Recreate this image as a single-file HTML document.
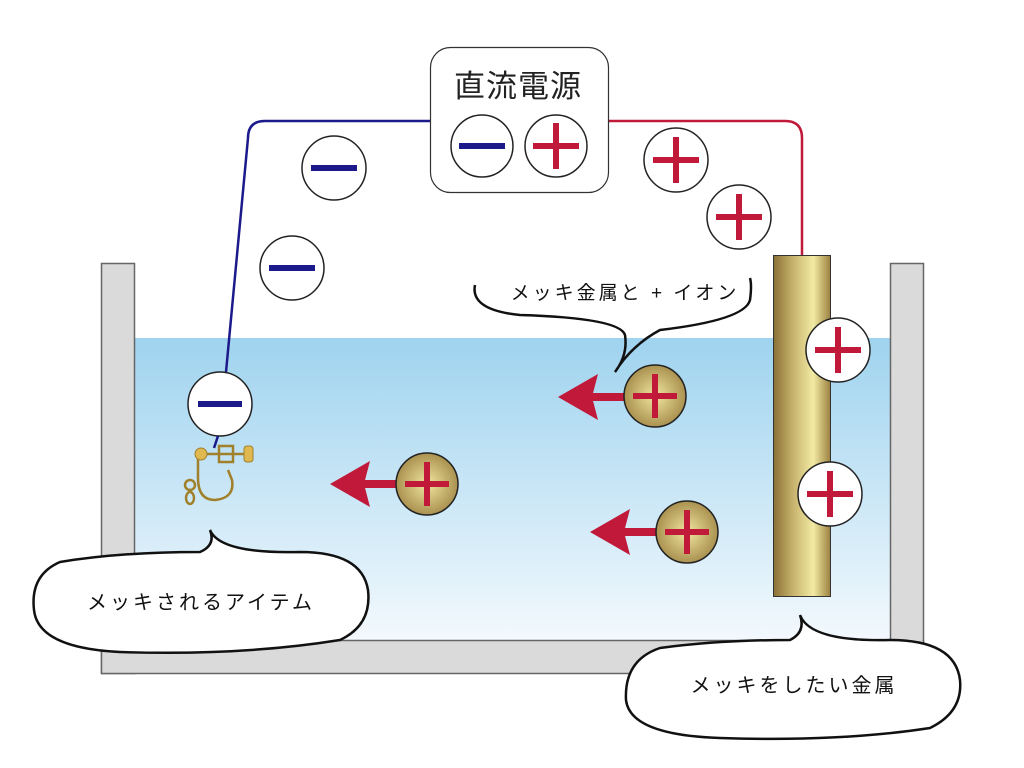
<!DOCTYPE html>
<html><head><meta charset="utf-8"><style>
html,body{margin:0;padding:0;background:#fff;width:1024px;height:768px;overflow:hidden}
text{font-family:"Liberation Sans","Noto Sans CJK JP",sans-serif}
</style></head><body>
<svg width="1024" height="768" viewBox="0 0 1024 768" xmlns="http://www.w3.org/2000/svg">
<defs>
<linearGradient id="water" x1="0" y1="0" x2="0" y2="1">
<stop offset="0" stop-color="#9fd3ef"/><stop offset="1" stop-color="#f3f9fd"/></linearGradient>
<linearGradient id="gold" x1="0" y1="0" x2="1" y2="0">
<stop offset="0" stop-color="#8a7035"/><stop offset="0.35" stop-color="#c8b46e"/><stop offset="0.7" stop-color="#f2eba4"/><stop offset="1" stop-color="#9c8040"/></linearGradient>
<radialGradient id="gball" cx="0.5" cy="0.5" r="0.6">
<stop offset="0" stop-color="#f0e6a0"/><stop offset="1" stop-color="#9c8040"/></radialGradient>
</defs>
<rect x="134" y="338" width="756" height="302" fill="url(#water)"/>
<rect x="101.5" y="263.5" width="33" height="410" fill="#dadada" stroke="#666" stroke-width="1.5"/>
<rect x="890.5" y="263.5" width="33" height="410" fill="#dadada" stroke="#666" stroke-width="1.5"/>
<rect x="101.5" y="640.5" width="822" height="33" fill="#dadada" stroke="#666" stroke-width="1.5"/>
<rect x="102.5" y="264.5" width="31" height="408" fill="#dadada"/>
<rect x="891.5" y="264.5" width="31" height="408" fill="#dadada"/>
<path d="M430 121 H265 Q248 121 248 138 L226 372" fill="none" stroke="#1c1a8a" stroke-width="2.5"/>
<path d="M608 121 H785 Q802 121 802 138 V256" fill="none" stroke="#c0193a" stroke-width="2.5"/>
<rect x="430.5" y="47.5" width="178" height="145" rx="20" fill="#fff" stroke="#333" stroke-width="1.2"/>
<text x="518" y="97" font-size="31" text-anchor="middle" fill="#222" letter-spacing="1">直流電源</text>
<g stroke="#222" stroke-width="1.5" fill="#fff">
<circle cx="482" cy="146" r="31"/><circle cx="556" cy="146" r="31"/>
<circle cx="334" cy="168" r="32"/><circle cx="292" cy="268" r="32"/>
<circle cx="676" cy="160" r="32"/><circle cx="739" cy="217" r="32"/>
</g>
<g stroke="#1c1a8a" stroke-width="6">
<line x1="459" y1="146" x2="505" y2="146"/><line x1="311" y1="168" x2="357" y2="168"/><line x1="269" y1="268" x2="315" y2="268"/>
</g>
<g stroke="#c0193a" stroke-width="6">
<line x1="533" y1="146" x2="579" y2="146"/><line x1="556" y1="123" x2="556" y2="169"/>
<line x1="653" y1="160" x2="699" y2="160"/><line x1="676" y1="137" x2="676" y2="183"/>
<line x1="716" y1="217" x2="762" y2="217"/><line x1="739" y1="194" x2="739" y2="240"/>
</g>
<rect x="773.5" y="255.5" width="57" height="341" fill="url(#gold)" stroke="#333" stroke-width="1"/>
<g stroke="#222" stroke-width="1.5" fill="#fff">
<circle cx="838" cy="350" r="32"/><circle cx="830" cy="494" r="32"/>
<circle cx="220" cy="404" r="32"/>
</g>
<line x1="198" y1="404" x2="242" y2="404" stroke="#1c1a8a" stroke-width="6"/>
<g stroke="#c0193a" stroke-width="6">
<line x1="815" y1="350" x2="861" y2="350"/><line x1="838" y1="327" x2="838" y2="373"/>
<line x1="807" y1="494" x2="853" y2="494"/><line x1="830" y1="471" x2="830" y2="517"/>
</g>
<line x1="218" y1="436" x2="214" y2="448" stroke="#1c1a8a" stroke-width="2.5"/>
<g fill="none" stroke="#a0802a" stroke-width="2.5">
<path d="M198 455 V478 Q198 500 215 500 Q235 498 232 480 L228 470"/>
<rect x="219" y="446" width="14" height="16"/>
<line x1="205" y1="454" x2="245" y2="454"/>
<circle cx="190" cy="485" r="5"/><ellipse cx="190" cy="498" rx="4" ry="6"/>
</g>
<circle cx="201" cy="454" r="6" fill="#e0b850" stroke="#a0802a"/>
<rect x="244" y="446" width="9" height="16" rx="3" fill="#e0b850" stroke="#a0802a"/>
<g fill="#c0193a" stroke="none">
<rect x="590" y="393" width="38" height="8"/><polygon points="558,397 598,374 592,397 598,420"/>
<rect x="362" y="480" width="38" height="8"/><polygon points="330,484 370,461 364,484 370,507"/>
<rect x="622" y="528" width="38" height="8"/><polygon points="590,532 630,509 624,532 630,555"/>
</g>
<g stroke="#222" stroke-width="1.5" fill="url(#gball)">
<circle cx="655" cy="396" r="31"/><circle cx="427" cy="484" r="31"/><circle cx="687" cy="532" r="31"/>
</g>
<g stroke="#c0193a" stroke-width="6">
<line x1="633" y1="396" x2="677" y2="396"/><line x1="655" y1="374" x2="655" y2="418"/>
<line x1="405" y1="484" x2="449" y2="484"/><line x1="427" y1="462" x2="427" y2="506"/>
<line x1="665" y1="532" x2="709" y2="532"/><line x1="687" y1="510" x2="687" y2="554"/>
</g>
<path d="M475 285 Q470 310 520 315 Q620 318 625 335 Q628 355 615 372 Q632 345 660 330 Q745 320 750 300 Q752 285 750 278" fill="none" stroke="#111" stroke-width="2.5"/>
<text x="625" y="299" font-size="19" text-anchor="middle" fill="#111" letter-spacing="3">メッキ金属と + イオン</text>
<path d="M210 530 Q216 545 200 552 Q120 552 60 562 Q30 575 34 610 Q38 648 120 652 Q240 656 340 640 Q372 625 368 590 Q362 552 300 552 Q220 554 210 530 Z" fill="#fff" stroke="#111" stroke-width="2.5"/>
<text x="201" y="609" font-size="20" text-anchor="middle" fill="#111" letter-spacing="3">メッキされるアイテム</text>
<path d="M800 615 Q806 632 790 640 Q720 640 660 648 Q624 660 626 700 Q630 735 720 738 Q840 742 930 728 Q963 712 960 680 Q955 640 890 640 Q810 642 800 615 Z" fill="#fff" stroke="#111" stroke-width="2.5"/>
<text x="794" y="692" font-size="20" text-anchor="middle" fill="#111" letter-spacing="3">メッキをしたい金属</text>
</svg>
</body></html>
